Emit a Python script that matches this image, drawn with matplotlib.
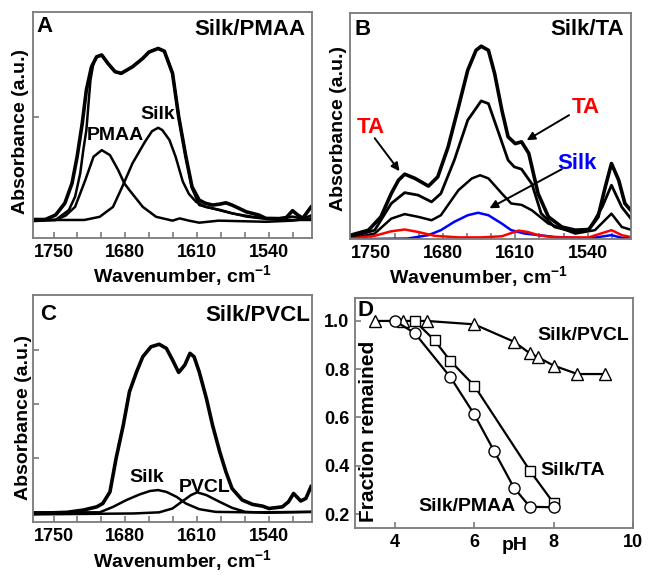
import matplotlib
matplotlib.use('Agg')
import matplotlib.pyplot as plt
from matplotlib.ticker import MultipleLocator, AutoMinorLocator

plt.rcParams['font.family'] = ['Liberation Sans', 'DejaVu Sans']
plt.rcParams['font.weight'] = 'bold'
plt.rcParams['mathtext.default'] = 'regular'

# ---------- Panel A: Silk/PMAA (wavenumber, absorbance a.u.) ----------
a_wn_sum = [1770, 1758, 1748, 1739, 1732, 1727, 1722, 1718, 1713, 1708, 1703, 1697, 1690, 1684,
            1673, 1663, 1657, 1648, 1642, 1634, 1628, 1621, 1615, 1608, 1602, 1595, 1588, 1582,
            1576, 1562, 1550, 1543, 1530, 1523, 1517, 1512, 1507, 1499]
a_sum = [0.082, 0.082, 0.102, 0.154, 0.242, 0.360, 0.508, 0.655, 0.758, 0.802, 0.810, 0.773, 0.736, 0.729,
         0.758, 0.795, 0.823, 0.839, 0.827, 0.729, 0.537, 0.360, 0.227, 0.168, 0.154, 0.146, 0.150, 0.156,
         0.146, 0.116, 0.102, 0.087, 0.086, 0.091, 0.121, 0.102, 0.088, 0.137]

a_wn_film = [1770, 1748, 1735, 1729, 1724, 1721, 1718, 1714, 1711, 1708, 1703, 1697, 1690, 1684,
             1673, 1663, 1657, 1648, 1642, 1634, 1628, 1621, 1615, 1608, 1595, 1576, 1556, 1543,
             1530, 1517, 1507, 1499]
a_film = [0.080, 0.080, 0.124, 0.183, 0.286, 0.389, 0.478, 0.700, 0.775, 0.802, 0.810, 0.773, 0.736, 0.729,
          0.758, 0.795, 0.823, 0.839, 0.827, 0.729, 0.537, 0.360, 0.220, 0.146, 0.131, 0.109, 0.094, 0.087,
          0.084, 0.095, 0.085, 0.100]

a_wn_silk = [1770, 1720, 1705, 1692, 1683, 1673, 1661, 1654, 1648, 1644, 1637, 1631, 1624, 1618,
             1611, 1602, 1588, 1576, 1562, 1543, 1520, 1499]
a_silk = [0.080, 0.080, 0.094, 0.138, 0.227, 0.331, 0.425, 0.473, 0.488, 0.478, 0.434, 0.360, 0.250, 0.195,
          0.160, 0.138, 0.125, 0.110, 0.095, 0.085, 0.080, 0.080]

a_wn_pmaa = [1770, 1748, 1738, 1729, 1719, 1711, 1703, 1695, 1687, 1681, 1676, 1663, 1650, 1634,
             1627, 1618, 1608, 1589, 1543, 1517, 1499]
a_pmaa = [0.075, 0.080, 0.100, 0.138, 0.257, 0.360, 0.389, 0.367, 0.301, 0.242, 0.212, 0.138, 0.094, 0.077,
          0.087, 0.077, 0.068, 0.077, 0.072, 0.077, 0.087]

# ---------- Panel B: Silk/TA ----------
b_wn_1 = [1769, 1752, 1740, 1730, 1723, 1717, 1707, 1694, 1685, 1675, 1665, 1656, 1648, 1643,
          1636, 1630, 1623, 1617, 1610, 1604, 1597, 1588, 1578, 1565, 1552, 1539, 1530, 1523,
          1517, 1510, 1504, 1497]
b_1 = [0.018, 0.040, 0.099, 0.202, 0.261, 0.288, 0.269, 0.235, 0.276, 0.408, 0.585, 0.748, 0.836, 0.854,
       0.836, 0.733, 0.571, 0.453, 0.423, 0.431, 0.380, 0.202, 0.099, 0.054, 0.040, 0.043, 0.099, 0.231,
       0.335, 0.261, 0.158, 0.121]

b_wn_2 = [1769, 1746, 1730, 1717, 1704, 1691, 1682, 1669, 1656, 1643, 1636, 1627, 1617, 1611,
          1604, 1594, 1585, 1572, 1552, 1539, 1526, 1517, 1507, 1497]
b_2 = [0.010, 0.040, 0.158, 0.206, 0.195, 0.165, 0.202, 0.350, 0.527, 0.612, 0.600, 0.482, 0.350, 0.320,
       0.310, 0.245, 0.114, 0.054, 0.032, 0.040, 0.142, 0.239, 0.142, 0.084]

b_wn_3 = [1769, 1746, 1730, 1717, 1704, 1691, 1682, 1665, 1652, 1644, 1636, 1623, 1614, 1604,
          1594, 1578, 1552, 1533, 1517, 1507, 1497]
b_3 = [0.003, 0.025, 0.091, 0.111, 0.099, 0.084, 0.106, 0.217, 0.269, 0.283, 0.269, 0.202, 0.158, 0.152,
       0.128, 0.069, 0.025, 0.040, 0.113, 0.054, 0.040]

b_wn_silk = [1769, 1714, 1694, 1682, 1669, 1656, 1646, 1636, 1623, 1614, 1601, 1572, 1539, 1517,
             1507, 1497]
b_silk = [0.000, 0.003, 0.018, 0.040, 0.077, 0.106, 0.117, 0.106, 0.069, 0.040, 0.025, 0.010, 0.003, 0.018,
          0.006, 0.003]

b_wn_ta = [1769, 1746, 1730, 1717, 1704, 1688, 1665, 1643, 1623, 1607, 1598, 1588, 1572, 1539,
           1517, 1507, 1497]
b_ta = [0.003, 0.015, 0.035, 0.043, 0.032, 0.015, 0.008, 0.008, 0.013, 0.038, 0.032, 0.018, 0.008, 0.008,
        0.040, 0.018, 0.008]

# ---------- Panel C: Silk/PVCL ----------
c_wn_sum = [1770, 1737, 1721, 1708, 1702, 1695, 1689, 1682, 1676, 1669, 1663, 1655, 1647, 1640,
            1634, 1628, 1622, 1617, 1613, 1608, 1601, 1595, 1588, 1582, 1576, 1566, 1556, 1546,
            1540, 1527, 1521, 1516, 1509, 1504, 1499]
c_sum = [0.038, 0.043, 0.053, 0.067, 0.082, 0.133, 0.281, 0.427, 0.574, 0.662, 0.728, 0.772, 0.783, 0.765,
         0.714, 0.659, 0.692, 0.743, 0.728, 0.662, 0.545, 0.427, 0.310, 0.222, 0.148, 0.097, 0.078, 0.070,
         0.060, 0.067, 0.089, 0.126, 0.093, 0.104, 0.156]

c_wn_silk = [1770, 1705, 1692, 1679, 1666, 1656, 1648, 1640, 1630, 1621, 1608, 1592, 1559, 1499]
c_silk = [0.043, 0.043, 0.067, 0.097, 0.122, 0.137, 0.141, 0.133, 0.111, 0.082, 0.057, 0.045, 0.043, 0.045]

c_wn_pvcl = [1770, 1672, 1647, 1634, 1624, 1616, 1610, 1601, 1588, 1576, 1563, 1543, 1499]
c_pvcl = [0.034, 0.038, 0.043, 0.060, 0.093, 0.119, 0.131, 0.119, 0.089, 0.063, 0.045, 0.041, 0.045]

# ---------- Panel D: fraction remained vs pH ----------
ph_pvcl = [3.5, 4.2, 4.8, 6.0, 7.0, 7.4, 7.6, 8.0, 8.6, 9.3]
frac_pvcl = [1.0, 1.0, 1.0, 0.986, 0.914, 0.866, 0.85, 0.815, 0.78, 0.78]
ph_ta = [4.5, 5.0, 5.4, 6.0, 7.4, 8.0]
frac_ta = [1.0, 0.92, 0.834, 0.732, 0.38, 0.245]
ph_pmaa = [4.0, 4.5, 5.4, 6.0, 6.5, 7.0, 7.4, 8.0]
frac_pmaa = [1.0, 0.95, 0.767, 0.613, 0.461, 0.309, 0.23, 0.228]

TITLE_FS = 16     # corner titles ("A", "Silk/PMAA" ...)
FS = 14           # labels inside plots
LAB_FS = 14
TICK_FS = 13
SPINE = '#7a7a7a'

fig = plt.figure(figsize=(6.54, 5.75), dpi=100)
axA = fig.add_axes([0.0505, 0.586, 0.4266, 0.393])
axB = fig.add_axes([0.535, 0.584, 0.430, 0.393])
axC = fig.add_axes([0.0505, 0.092, 0.4266, 0.395])
axD = fig.add_axes([0.543, 0.0817, 0.425, 0.400])


def style_spectrum(ax, yticks, xlab_pos, ylab_pos):
    ax.set_xlim(1770, 1498)
    ax.set_ylim(0, 1)
    ax.xaxis.set_major_locator(MultipleLocator(70))
    ax.xaxis.set_minor_locator(AutoMinorLocator(3))
    ax.set_yticks(yticks)
    ax.set_yticklabels([])
    ax.tick_params(which='both', direction='in', length=4, width=1.2, color=SPINE,
                   labelsize=TICK_FS, top=False, right=False, pad=4)
    for s in ax.spines.values():
        s.set_color(SPINE)
        s.set_linewidth(1.3)
    ax.set_xlabel('Wavenumber, cm$^{-1}$', fontsize=LAB_FS, fontweight='bold')
    ax.set_ylabel('Absorbance (a.u.)', fontsize=LAB_FS, fontweight='bold')
    ax.xaxis.set_label_coords(*xlab_pos)
    ax.yaxis.set_label_coords(*ylab_pos)
    ax.yaxis.label.set_va('center')


# Panel A
axA.plot(a_wn_sum, a_sum, color='black', lw=2.6)
axA.plot(a_wn_film, a_film, color='black', lw=1.8)
axA.plot(a_wn_silk, a_silk, color='black', lw=1.8)
axA.plot(a_wn_pmaa, a_pmaa, color='black', lw=1.8)
style_spectrum(axA, [0.537], (0.534, -0.112), (-0.045, 0.47))
axA.text(0.014, 0.936, 'A', transform=axA.transAxes, fontsize=TITLE_FS, fontweight='bold', va='center')
axA.text(0.975, 0.923, 'Silk/PMAA', transform=axA.transAxes, fontsize=TITLE_FS, fontweight='bold',
         va='center', ha='right')
axA.text(1690, 0.456, 'PMAA', fontsize=FS, fontweight='bold', ha='center', va='center')
axA.text(1648, 0.546, 'Silk', fontsize=FS, fontweight='bold', ha='center', va='center')

# Panel B
axB.plot(b_wn_1, b_1, color='black', lw=2.6)
axB.plot(b_wn_2, b_2, color='black', lw=2.0)
axB.plot(b_wn_3, b_3, color='black', lw=1.8)
axB.plot(b_wn_silk, b_silk, color='blue', lw=1.8)
axB.plot(b_wn_ta, b_ta, color='red', lw=1.8)
style_spectrum(axB, [], (0.456, -0.11), (-0.041, 0.49))
axB.text(0.018, 0.93, 'B', transform=axB.transAxes, fontsize=TITLE_FS, fontweight='bold', va='center')
axB.text(0.975, 0.927, 'Silk/TA', transform=axB.transAxes, fontsize=TITLE_FS, fontweight='bold',
         va='center', ha='right')
arrow = dict(arrowstyle='-|>', color='black', lw=1.4, mutation_scale=12, shrinkA=0, shrinkB=0)
axB.annotate('', xy=(1722, 0.301), xytext=(1746, 0.447), arrowprops=arrow)
axB.annotate('', xy=(1599, 0.438), xytext=(1558, 0.549), arrowprops=arrow)
axB.annotate('', xy=(1635, 0.137), xytext=(1565, 0.310), arrowprops=arrow)
axB.text(1750, 0.493, 'TA', color='red', fontsize=TITLE_FS, fontweight='bold', ha='center', va='center')
axB.text(1542, 0.584, 'TA', color='red', fontsize=TITLE_FS, fontweight='bold', ha='center', va='center')
axB.text(1550, 0.334, 'Silk', color='blue', fontsize=TITLE_FS, fontweight='bold', ha='center', va='center')

# Panel C
axC.plot(c_wn_sum, c_sum, color='black', lw=2.6)
axC.plot(c_wn_silk, c_silk, color='black', lw=1.8)
axC.plot(c_wn_pvcl, c_pvcl, color='black', lw=1.8)
style_spectrum(axC, [0.282, 0.520, 0.758], (0.534, -0.115), (-0.034, 0.46))
axC.text(0.025, 0.912, 'C', transform=axC.transAxes, fontsize=TITLE_FS, fontweight='bold', va='center')
axC.text(0.993, 0.91, 'Silk/PVCL', transform=axC.transAxes, fontsize=TITLE_FS, fontweight='bold',
         va='center', ha='right')
axC.text(1659, 0.196, 'Silk', fontsize=FS, fontweight='bold', ha='center', va='center')
axC.text(1603, 0.152, 'PVCL', fontsize=FS, fontweight='bold', ha='center', va='center')

# Panel D
axD.plot(ph_pvcl, frac_pvcl, '-^', color='black', lw=1.6, ms=9, mfc='white', mec='black', mew=1.0)
axD.plot(ph_ta, frac_ta, '-s', color='black', lw=1.6, ms=7, mfc='white', mec='black', mew=1.0)
axD.plot(ph_pmaa, frac_pmaa, '-o', color='black', lw=1.6, ms=8, mfc='white', mec='black', mew=1.0)
axD.set_xlim(3, 10)
axD.set_ylim(0.142, 1.095)
axD.set_xticks([4, 6, 8, 10])
axD.set_yticks([0.2, 0.4, 0.6, 0.8, 1.0])
axD.set_yticklabels(['0.2', '0.4', '0.6', '0.8', '1.0'])
axD.tick_params(direction='in', length=4, width=1.2, color=SPINE, labelsize=TICK_FS, pad=4)
for s in axD.spines.values():
    s.set_color(SPINE)
    s.set_linewidth(1.3)
axD.text(0.007, 0.993, 'D', transform=axD.transAxes, fontsize=TITLE_FS, fontweight='bold', va='top', ha='left')
axD.text(0.047, 0.42, 'Fraction remained', transform=axD.transAxes, rotation=90,
         fontsize=15, fontweight='bold', va='center', ha='center')
axD.text(6.7, -0.074, 'pH', transform=axD.get_xaxis_transform(), fontsize=FS, fontweight='bold',
         va='center', ha='left')
axD.text(7.58, 0.938, 'Silk/PVCL', fontsize=FS, fontweight='bold', va='center', ha='left')
axD.text(7.66, 0.382, 'Silk/TA', fontsize=FS, fontweight='bold', va='center', ha='left')
axD.text(4.59, 0.231, 'Silk/PMAA', fontsize=FS, fontweight='bold', va='center', ha='left')

fig.savefig('out.png', dpi=100)
